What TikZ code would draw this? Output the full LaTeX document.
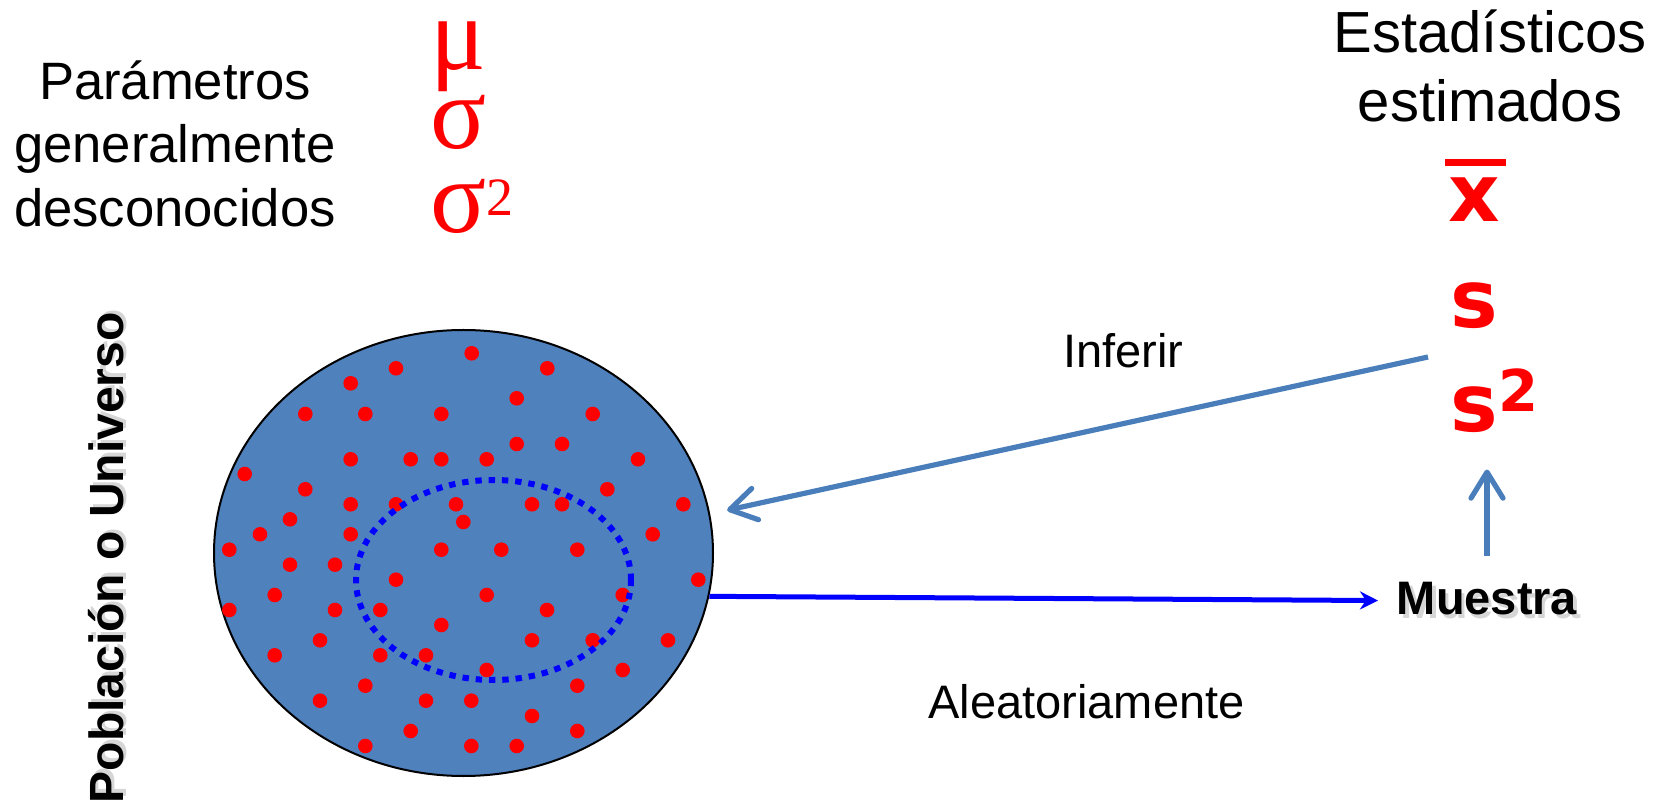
\documentclass[tikz,border=0pt]{standalone}
\usepackage{fontspec}
\setmainfont{Liberation Sans}
\newfontfamily\greekfont{Liberation Serif}
\newfontfamily\statfont{DejaVu Sans}
\usetikzlibrary{arrows.meta,shapes.geometric,positioning}
\definecolor{popblue}{HTML}{4F81BD}
\definecolor{infblue}{HTML}{4A7EBB}
\newcommand{\shadowed}[1]{{\rlap{\color{black!16}\kern1.6pt\raisebox{-1.6pt}{#1}}#1}}
\tikzset{
  lbl/.style={inner sep=0pt,font=\fontsize{23.5}{28}\selectfont},
  head/.style={inner sep=0pt,align=center},
  greek/.style={inner sep=0pt,text=red,font=\greekfont\fontsize{52}{52}\selectfont,anchor=base west},
  stat/.style={inner sep=0pt,text=red,font=\statfont\bfseries\fontsize{40}{40}\selectfont,anchor=base west},
  dot/.style={fill=red},
  infer/.style={draw=infblue,line width=2.6pt,-{Straight Barb[round,length=13pt,width=16pt]}},
  sample/.style={draw=blue,line width=2.5pt,-{Stealth[length=9pt,width=9pt]}},
  subset/.style={draw=blue,line width=3pt,dash pattern=on 3.2pt off 3.45pt},
}
\begin{document}
\begin{tikzpicture}[x=0.5pt,y=-0.5pt]
  \useasboundingbox (0,0) rectangle (1661,807);

  % population with its elements
  \node[ellipse,draw=black,line width=1pt,fill=popblue,minimum width=249.5pt,
    minimum height=223pt,inner sep=0pt] (pop) at (463.5,553) {};
  \foreach \x/\y in {471.7/353.3, 396/368.3, 547.3/368.3, 350.7/383.3, 516.7/398.3,
      305.3/414, 365.3/414, 441.3/414, 592.7/414, 516.7/444, 562/444,
      350.7/459.3, 410.7/459.3, 441.3/459.3, 486.7/459.3, 638/459.3, 244.7/474,
      305.3/489.3, 607.3/489.3, 350.7/504.3, 396/504.3, 456/504.3, 532/504.3,
      562/504.3, 683.3/504.3, 290/519.3, 463.3/522, 260/534.3, 350.7/534.3,
      652.7/534.3, 229.3/549.7, 441.3/549.7, 501.3/549.7, 577.3/549.7,
      290/564.7, 335/564.7, 396/579.7, 698.3/579.7, 274.7/595, 486.7/595,
      622.7/595, 229.3/610, 335/610, 380.3/610, 547/610, 441.3/625,
      320/640.3, 532/640.3, 592.7/640.3, 668/640.3, 274.7/655.3, 380.3/655.3,
      426/655.3, 486.7/670, 622.7/670, 365.3/685.7, 577.3/685.7, 320/700.7,
      426/700.7, 471.3/700.7, 532/716, 410.7/731, 577.3/731, 365.3/746,
      471.3/746, 516.7/746}
    \fill[dot] (\x,\y) circle[radius=3.65pt];
  % random sample
  \draw[subset] (493.5,580) ellipse[x radius=68.75pt,y radius=50pt];

  % parameters
  \node[head,font=\fontsize{26.3}{31.75}\selectfont,anchor=north] (params) at (175,60)
    {Parámetros\\generalmente\\desconocidos};
  \node[greek] (mu) at (430,70) {μ};
  \node[greek] (sigma) at (430,149) {σ};
  \node[greek] (sigmasq) at (430,233) {σ\raisebox{8.5pt}{\fontsize{27}{27}\selectfont 2}};

  % statistics
  \node[head,font=\fontsize{29}{34.5}\selectfont,anchor=north] (stats) at (1490,9)
    {Estadísticos\\estimados};
  \node[stat] (xbar) at (1448,222) {\rlap{\kern-1.5pt\rule[27.75pt]{30.5pt}{3.5pt}}x};
  \node[stat] (s) at (1450,328) {s};
  \node[stat] (ssq) at (1450,432) {s\raisebox{10pt}{\fontsize{28.8}{28.8}\selectfont 2}};

  \node[lbl,font=\bfseries\fontsize{23.5}{28}\selectfont,anchor=base west] (muestra)
    at (1396.5,615) {\shadowed{Muestra}};
  \node[lbl,font=\bfseries\fontsize{24}{28}\selectfont,rotate=90,anchor=base west] (pobl)
    at (123,803.5) {\shadowed{Población o Universo}};
  \node[lbl,anchor=base west] (inferir) at (1063,368) {Inferir};
  \node[lbl,anchor=base west] (aleat) at (928,718) {Aleatoriamente};

  % connectors
  \coordinate (infstart) at (1428,357);
  \draw[infer,shorten >=8.7pt] (infstart) -- (pop.9.3);
  \draw[infer,shorten <=13pt,shorten >=18pt] (muestra.north) -- (muestra.north |- ssq.south);
  \draw[sample,shorten >=9.25pt] (pop.-10.7) -- (muestra.west);
\end{tikzpicture}
\end{document}
